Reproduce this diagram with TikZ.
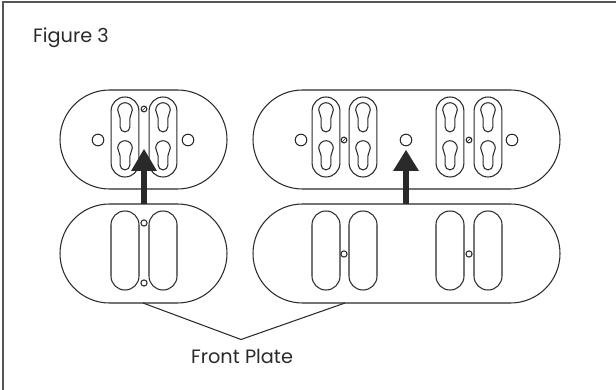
\documentclass[tikz,border=0pt]{standalone}
\usepackage{fontspec}
\setmainfont{Poppins}
\definecolor{ink}{HTML}{2A2A2A}
\tikzset{
  outline/.style={draw=ink,line width=1.05pt},
  frameline/.style={draw=ink!80,line width=1.3pt},
  pill/.style={outline,fill=white},
  label/.style={text=ink,font=\fontsize{19.3}{22}\selectfont,inner sep=0pt,anchor=base west},
  shaft/.style={draw=ink,line width=6pt},
  head/.style={fill=ink,draw=none}
}
\newcommand{\keyhole}[2]{%
  \draw[outline] (#1-4.9,#2+10) -- (#1-4.9,#2+19)
    .. controls (#1-4.9,#2+21.7) and (#1-2.7,#2+23.9) .. (#1,#2+23.9)
    .. controls (#1+2.7,#2+23.9) and (#1+4.9,#2+21.7) .. (#1+4.9,#2+19)
    -- (#1+4.9,#2+10)
    .. controls (#1+4.9,#2+7) and (#1+7.3,#2+5) .. (#1+7.3,#2+2)
    .. controls (#1+7.3,#2-2) and (#1+4,#2-5.3) .. (#1,#2-5.3)
    .. controls (#1-4,#2-5.3) and (#1-7.3,#2-2) .. (#1-7.3,#2+2)
    .. controls (#1-7.3,#2+5) and (#1-4.9,#2+7) .. cycle;}
\newcommand{\slotkeys}[1]{%
  \draw[outline,rounded corners=13.9pt] (#1-13.9,97) rectangle (#1+13.9,177);
  \keyhole{#1}{108}\keyhole{#1}{146}}
\begin{document}
\begin{tikzpicture}[x=1pt,y=-1pt]
\useasboundingbox (0,0) rectangle (616,390);
\draw[frameline] (3,390) -- (3,2) -- (616,2);
\node[label] (fig) at (33,43) {Figure 3};
% top pills
\draw[pill,rounded corners=49.5pt] (60,90) rectangle (227,189);
\draw[pill,rounded corners=49.5pt] (253,90) rectangle (560,189);
% bottom pills
\draw[pill,rounded corners=49.5pt] (60,204) rectangle (227,303);
\draw[pill,rounded corners=49.5pt] (253,204) rectangle (560,303);
% keyhole slots
\slotkeys{125}\slotkeys{163}
\slotkeys{326}\slotkeys{363}\slotkeys{450}\slotkeys{488}
% top circles
\foreach \p in {(98,140),(188,140),(301,140),(406,140),(512,140)}
  \draw[outline] \p circle[radius=5.8];
\foreach \p in {(144,109),(344,140),(469,140)}{
  \draw[outline] \p circle[radius=2.9];
  \draw[ink,line width=0.7pt] \p ++(-1.8,1.8) -- ++(3.6,-3.6);
}
% bottom slots
\foreach \a/\b in {111/139,149/177,312/340,349/377,436/464,474/502}
  \draw[outline,rounded corners=13.9pt] (\a,211) rectangle (\b,290);
\foreach \p in {(144,223),(144,283),(344,254),(469,254)}
  \draw[outline] \p circle[radius=3.1];
% arrows
\coordinate (a1) at (144,204);
\coordinate (t1) at (144,149);
\coordinate (a2) at (406,204);
\coordinate (t2) at (406,150);
\draw[shaft] (a1) -- (144,168);
\fill[head] (t1) -- (157,171) -- (131,171) -- cycle;
\draw[shaft] (a2) -- (406,168);
\fill[head] (t2) -- (419,171) -- (393,171) -- cycle;
% leader lines
\node[label] (fp) at (191,363) {Front Plate};
\coordinate (l1) at (143,303);
\coordinate (l2) at (345,303);
\coordinate (apex) at (241,339.5);
\draw[outline] (l1) -- (apex) -- (l2);
\end{tikzpicture}
\end{document}
